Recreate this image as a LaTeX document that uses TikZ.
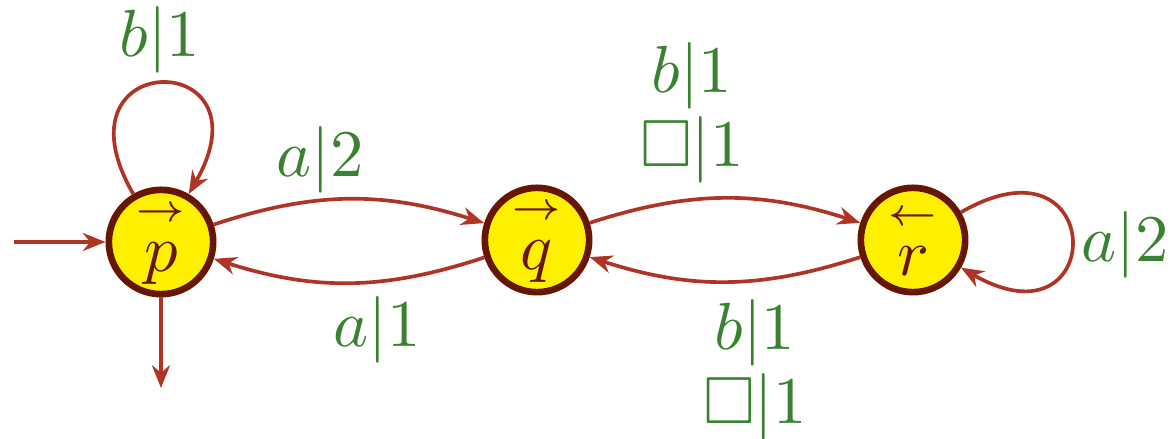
\documentclass[tikz,border=0pt]{standalone}
\usepackage{amssymb}
\usepackage{amsmath}
\usepackage{graphicx}
\usetikzlibrary{arrows.meta}
\definecolor{edgecol}{RGB}{176,52,36}
\definecolor{statebd}{RGB}{104,22,4}
\definecolor{statefill}{RGB}{255,240,0}
\definecolor{labcol}{RGB}{58,130,50}
\newcommand{\stlab}[2]{$\overset{\raisebox{1.2pt}{\scalebox{1.15}{$\scriptscriptstyle#1$}}}{#2}$}
\begin{document}
\begin{tikzpicture}[x=0.15pt,y=-0.15pt,
  statenode/.style={circle,draw=statebd,fill=statefill,line width=1.0pt,minimum size=15.65pt,inner sep=0pt,text=statebd},
  trans/.style={draw=edgecol,line width=0.55pt,-{Stealth[length=3.4pt,width=2.7pt]}},
  lab/.style={text=labcol,align=center,inner sep=0pt}]
\useasboundingbox (0,0) rectangle (1172,439);
\node[statenode] (p) at (161,242) {\stlab{\rightarrow}{p}};
\node[statenode] (q) at (537,240) {\stlab{\rightarrow}{q}};
\node[statenode] (r) at (913,240) {\stlab{\leftarrow}{r}};
\coordinate (start) at (14,242);
\coordinate (fin) at (161,388);
\draw[trans] (start) -- (p);
\draw[trans] (p) -- (fin);
\draw[trans] (p) to[out=120,in=60,distance=25.5pt] (p);
\draw[trans] (r) to[out=30,in=-30,distance=25.5pt] (r);
\draw[trans] (p) to[bend left=18] (q);
\draw[trans] (q) to[bend left=18] (p);
\draw[trans] (q) to[bend left=18] (r);
\draw[trans] (r) to[bend left=18] (q);
\node[lab] (l1) at (160,40) {$b|1$};
\node[lab] (l2) at (320,160) {$a|2$};
\node[lab] (l3) at (377,330) {$a|1$};
\node[lab] (l4) at (692,113) {$b|1$\\[-1pt]$\square|1$};
\node[lab] (l5) at (755,370) {$b|1$\\[-1pt]$\square|1$};
\node[lab] (l6) at (1125,245) {$a|2$};
\end{tikzpicture}
\end{document}
